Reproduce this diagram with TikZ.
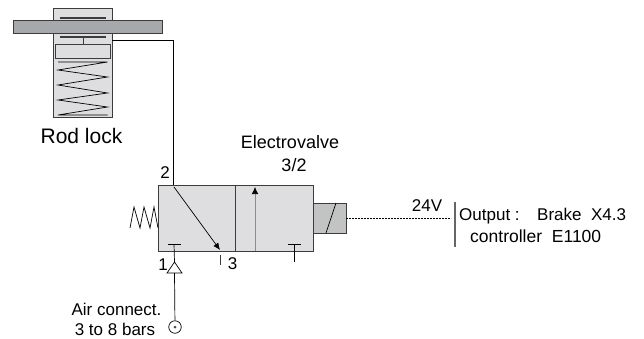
\documentclass[tikz,border=0pt]{standalone}
\usepackage{fontspec}
\setmainfont{Liberation Sans}
\usetikzlibrary{arrows.meta}
\definecolor{body_grey}{RGB}{222, 222, 224}
\definecolor{bar_grey}{RGB}{166, 169, 171}
\definecolor{coil_grey}{RGB}{194, 196, 196}
\definecolor{line_grey}{RGB}{60, 60, 60}
\tikzstyle{bx}=[rectangle,draw=line_grey,line width=0.9pt,inner sep=0pt,outer sep=0pt]
\tikzstyle{lbl}=[inner sep=0pt,font=\fontsize{17}{17}\selectfont]
\tikzstyle{biglbl}=[inner sep=0pt,font=\fontsize{18}{18}\selectfont]
\tikzstyle{thin}=[draw=black,line width=0.7pt]
\begin{document}
\begin{tikzpicture}[x=1pt,y=-1pt]
    \useasboundingbox (0,0) rectangle (644,338);
    \node [bx,fill=body_grey,minimum width=59pt,minimum height=109pt] (lock) at (82.5,62.5) {};
    \node [bx,fill=bar_grey,minimum width=149pt,minimum height=13.5pt] (bar) at (87.5,26.7) {};
    \node [bx,fill=body_grey,minimum width=55pt,minimum height=14pt] (piston) at (82.5,51) {};
    \coordinate (stoptop) at (83,18);
    \coordinate (stopbot) at (83,37);
    \draw [line width=1.3pt,draw=line_grey] (60,18) -- (106,18);
    \draw [line width=1.3pt,draw=line_grey] (60,37) -- (106,37);
    \draw [line width=0.8pt,draw=line_grey] (stopbot) -- (piston.north -| stopbot);
    \draw [thin] (58,62) -- (107.5,62) -- (58,70) -- (107.5,77) -- (58,85) -- (107.5,93) -- (58,100) -- (107.5,107) -- (58,115) -- (107.5,115);
    \node [biglbl,font=\fontsize{21}{21}\selectfont] (rodlock) at (81.5,136) {Rod lock};
    \node [bx,fill=body_grey,minimum width=155pt,minimum height=66pt] (valve) at (235.5,218) {};
    \coordinate (divtop) at (235,185);
    \coordinate (divbot) at (235,251);
    \draw [line width=0.9pt,draw=line_grey] (divtop) -- (divbot);
    \node [bx,fill=coil_grey,minimum width=33pt,minimum height=30pt] (coil) at (329.5,218) {};
    \coordinate (coiltop) at (336,203);
    \coordinate (coilbot) at (326,233);
    \draw [thin] (coiltop) -- (coilbot);
    \coordinate (lockport) at (112,40);
    \coordinate (bend) at (173,40);
    \coordinate (port2) at (173,185);
    \draw [thin] (lockport) -- (bend) -- (port2);
    \coordinate (arrowstart) at (174,187);
    \coordinate (arrowend) at (220,250);
    \draw [thin,-{Latex[length=7pt,width=6pt]}] (arrowstart) -- (arrowend);
    \coordinate (upstart) at (255,251);
    \coordinate (upend) at (255,187);
    \draw [draw=black!45,line width=0.6pt,-{Latex[length=7pt,width=6.5pt,black]}] (upstart) -- (upend);
    \coordinate (leftT) at (174,244);
    \coordinate (rightT) at (294,244);
    \coordinate (rightTend) at (294,262);
    \draw [thin] (168,244) -- (181,244);
    \draw [thin] (288,244) -- (301,244);
    \draw [thin] (rightT) -- (rightTend);
    \coordinate (apex) at (174.5,262);
    \draw [thin] (leftT) -- (apex);
    \draw [thin,fill=white] (apex) -- (182,273) -- (167,273) -- cycle;
    \coordinate (trianglebase) at (174.5,273);
    \node [circle,draw=black,fill=white,line width=0.7pt,minimum size=12.5pt,inner sep=0pt] (aircircle) at (175,327) {};
    \node [circle,fill=black!70,minimum size=3pt,inner sep=0pt] (airdot) at (175,327) {};
    \draw [thin] (trianglebase) -- (aircircle);
    \coordinate (mark3top) at (220,255);
    \coordinate (mark3bot) at (220,265);
    \draw [draw=line_grey,line width=0.6pt] (mark3top) -- (mark3bot);
    \draw [thin] (130,228) -- (134,207) -- (140,228) -- (144,207) -- (150,228) -- (154,207) -- (158,228);
    \coordinate (dashend) at (451,218);
    \draw [thin,dash pattern=on 2pt off 1pt] (coil.east) -- (dashend);
    \coordinate (sigtop) at (455,202);
    \coordinate (sigbot) at (455,247);
    \draw [draw=black!60,line width=1.3pt] (sigtop) -- (sigbot);
    \node [lbl] (n2) at (165,173) {2};
    \node [lbl] (n1) at (163,265) {1};
    \node [lbl] (n3) at (232.5,263.5) {3};
    \node [biglbl] (evalve) at (290,142) {Electrovalve};
    \node [biglbl] (ratio) at (294,165) {3/2};
    \node [lbl] (volt) at (427,206) {24V};
    \node [lbl,anchor=base west] (output) at (459,220) {Output :};
    \node [lbl,anchor=base west] (brake) at (537,220) {Brake\ \ X4.3};
    \node [lbl,anchor=base west,font=\fontsize{17.5}{17.5}\selectfont] (ctrl) at (470,242) {controller\ \ E1100};
    \node [lbl] (air) at (116.5,309.5) {Air connect.};
    \node [lbl] (bars) at (115,329.5) {3 to 8 bars};
  \end{tikzpicture}
\end{document}
